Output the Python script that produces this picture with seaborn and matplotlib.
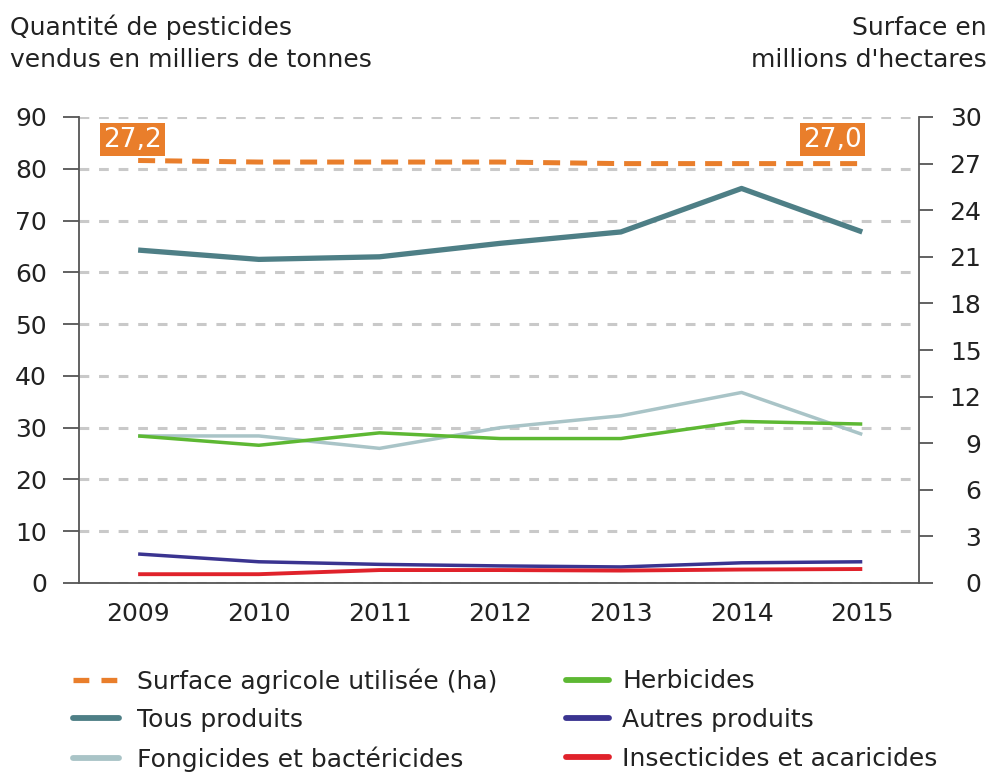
import matplotlib
matplotlib.use("Agg")
import matplotlib.pyplot as plt
from matplotlib.lines import Line2D
from matplotlib.ticker import FixedLocator
import seaborn as sns
import pandas as pd

# ---------------- data ----------------
years = [2009, 2010, 2011, 2012, 2013, 2014, 2015]
tous_produits = [64.3, 62.5, 63.0, 65.6, 67.8, 76.2, 67.8]
fongicides = [28.4, 28.4, 26.0, 30.0, 32.3, 36.8, 28.7]
herbicides = [28.4, 26.6, 29.0, 27.9, 27.9, 31.2, 30.7]
autres = [5.6, 4.1, 3.6, 3.3, 3.1, 3.9, 4.1]
insecticides = [1.7, 1.7, 2.5, 2.5, 2.4, 2.6, 2.7]
surface = [27.2, 27.1, 27.1, 27.1, 27.0, 27.0, 27.0]

series_names = ["Tous produits", "Fongicides et bactéricides", "Herbicides",
                "Autres produits", "Insecticides et acaricides"]
series_values = [tous_produits, fongicides, herbicides, autres, insecticides]
surface_name = "Surface agricole utilisée (ha)"
left_ticks = [0, 10, 20, 30, 40, 50, 60, 70, 80, 90]
right_ticks = [0, 3, 6, 9, 12, 15, 18, 21, 24, 27, 30]
label_start = "27,2"
label_end = "27,0"

# ---------------- style ----------------
sns.set_style("white")
plt.rcParams["font.family"] = ["DejaVu Sans"]
FS = 18
TXT = "#222222"
SPINE = "#555555"
colors = {
    "Tous produits": "#4e7f86",
    "Fongicides et bactéricides": "#a9c4c7",
    "Herbicides": "#5db833",
    "Autres produits": "#3a3490",
    "Insecticides et acaricides": "#e0222b",
}
widths = {
    "Tous produits": 3.8,
    "Fongicides et bactéricides": 2.5,
    "Herbicides": 2.5,
    "Autres produits": 2.5,
    "Insecticides et acaricides": 2.8,
}
ORANGE = "#e97e2b"

long = pd.DataFrame({
    "annee": years * len(series_names),
    "valeur": sum(series_values, []),
    "serie": [n for n in series_names for _ in years],
})

W, H = 995, 772
fig = plt.figure(figsize=(W / 100, H / 100), dpi=100)
ax = fig.add_axes([79 / W, (H - 583) / H, 840 / W, 466 / H])
ax2 = ax.twinx()

# grid on the left axis
ax.set_axisbelow(True)
ax.yaxis.grid(True, color="#c9c9c9", lw=2.2, linestyle=(0, (3.2, 3.2)))
ax.xaxis.grid(False)

order = ["Fongicides et bactéricides", "Herbicides", "Autres produits",
         "Insecticides et acaricides", "Tous produits"]
for name in order:
    sub = long[long["serie"] == name]
    sns.lineplot(data=sub, x="annee", y="valeur", ax=ax, color=colors[name],
                 lw=widths[name], legend=False, solid_capstyle="butt")

surf_df = pd.DataFrame({"annee": years, "surface": surface})
sns.lineplot(data=surf_df, x="annee", y="surface", ax=ax2, color=ORANGE,
             lw=3.6, legend=False)
for ln in ax2.get_lines():
    ln.set_dashes((3.4, 2.0))
    ln.set_dash_capstyle("butt")

# limits
ax.set_xlim(2008.51, 2015.47)
ax.set_ylim(0, 90)
ax2.set_ylim(0, 30)

# x ticks
ax.xaxis.set_major_locator(FixedLocator(years))
ax.set_xticklabels([str(y) for y in years])
ax.xaxis.set_minor_locator(FixedLocator([2008.51] + [y + 0.5 for y in years[:-1]] + [2015.47]))
ax.tick_params(axis="x", which="major", length=0, pad=13.5, labelsize=FS, labelcolor=TXT)
ax.tick_params(axis="x", which="minor", length=6, width=1.3, color=SPINE, direction="out")

# left y ticks
ax.yaxis.set_major_locator(FixedLocator(left_ticks))
ax.set_yticklabels([str(v) for v in left_ticks])
ax.tick_params(axis="y", which="major", length=11.5, width=1.3, color=SPINE,
               direction="out", pad=11.5, labelsize=FS, labelcolor=TXT, left=True)

# right y ticks
ax2.yaxis.set_major_locator(FixedLocator(right_ticks))
ax2.set_yticklabels([str(v) for v in right_ticks])
ax2.tick_params(axis="y", which="major", length=10, width=1.3, color=SPINE,
                direction="out", pad=35, labelsize=FS, labelcolor=TXT, right=True)
for lbl in ax2.get_yticklabels():
    lbl.set_horizontalalignment("right")

ax.set_xlabel("")
ax.set_ylabel("")
ax2.set_xlabel("")
ax2.set_ylabel("")

for a in (ax, ax2):
    for s in a.spines.values():
        s.set_visible(False)
ax.spines["left"].set_visible(True)
ax.spines["bottom"].set_visible(True)
ax2.spines["right"].set_visible(True)
for s in (ax.spines["left"], ax.spines["bottom"], ax2.spines["right"]):
    s.set_color(SPINE)
    s.set_linewidth(1.3)

# orange value labels
box = dict(boxstyle="square,pad=0.12", fc=ORANGE, ec="none")
ax2.text(2008.95, 28.55, label_start, ha="center", va="center", fontsize=19,
         color="white", bbox=box)
ax2.text(2014.753, 28.55, label_end, ha="center", va="center", fontsize=19,
         color="white", bbox=box)

# axis titles
def fy(px):
    return (H - px) / H

fig.text(10 / W, fy(35), "Quantité de pesticides", fontsize=FS, color=TXT, va="baseline", ha="left")
fig.text(10 / W, fy(67), "vendus en milliers de tonnes", fontsize=FS, color=TXT, va="baseline", ha="left")
fig.text(987 / W, fy(35), "Surface en", fontsize=FS, color=TXT, va="baseline", ha="right")
fig.text(987 / W, fy(67), "millions d'hectares", fontsize=FS, color=TXT, va="baseline", ha="right")

# legends
h_surf = Line2D([], [], color=ORANGE, lw=3.8, dashes=(3.0, 2.3), dash_capstyle="butt")
def h(name):
    return Line2D([], [], color=colors[name], lw=4.2, solid_capstyle="round")

col1_h = [h_surf, h("Tous produits"), h("Fongicides et bactéricides")]
col1_l = [surface_name, "Tous produits", "Fongicides et bactéricides"]
col2_h = [h("Herbicides"), h("Autres produits"), h("Insecticides et acaricides")]
col2_l = ["Herbicides", "Autres produits", "Insecticides et acaricides"]

common = dict(loc="center left", frameon=False, fontsize=FS, borderpad=0,
              borderaxespad=0, labelspacing=0.58, labelcolor=TXT)
leg1 = fig.legend(col1_h, col1_l, bbox_to_anchor=(73 / W, fy(720)),
                  handlelength=1.85, handletextpad=0.72, **common)
leg2 = fig.legend(col2_h, col2_l, bbox_to_anchor=(566 / W, fy(720)),
                  handlelength=1.7, handletextpad=0.56, **common)

fig.savefig("out.png", dpi=100)
